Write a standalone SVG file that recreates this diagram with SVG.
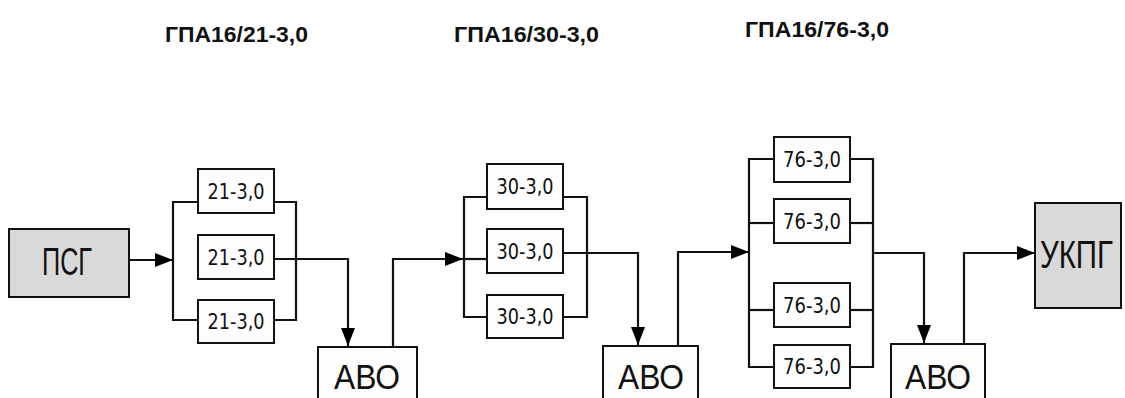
<svg xmlns="http://www.w3.org/2000/svg" width="1125" height="398" viewBox="0 0 1125 398">
<defs>
<marker id="arr" viewBox="0 0 18 14" refX="18" refY="7" markerWidth="18" markerHeight="14" markerUnits="userSpaceOnUse" orient="auto">
<path d="M0,0 L18,7 L0,14 Z" fill="#000"/>
</marker>
<style>
.box{fill:#fdfdfd;stroke:#111;stroke-width:2}
.gray{fill:#d9d9d9;stroke:#111;stroke-width:2}
.ln{fill:none;stroke:#111;stroke-width:2.2}
.lbl{font-family:"DejaVu Sans",sans-serif;font-size:22px;fill:#111;text-anchor:middle}
.big{font-family:"Liberation Sans",sans-serif;font-size:38px;fill:#111}
.avo{font-family:"Liberation Sans",sans-serif;font-size:35px;fill:#111}
.title{font-family:"Liberation Sans",sans-serif;font-weight:bold;font-size:22px;fill:#111}
</style>
</defs>
<rect width="1125" height="398" fill="#fff"/>
<g id="titles">
<text class="title" x="165" y="42" textLength="143" lengthAdjust="spacingAndGlyphs">ГПА16/21-3,0</text>
<text class="title" x="454" y="42" textLength="145" lengthAdjust="spacingAndGlyphs">ГПА16/30-3,0</text>
<text class="title" x="745" y="37" textLength="144" lengthAdjust="spacingAndGlyphs">ГПА16/76-3,0</text>
</g>
<g id="connectors">
<polyline class="ln" points="129,260 173,260" marker-end="url(#arr)"/>
<polyline class="ln" points="198,202 173,202 173,320 198,320"/>
<polyline class="ln" points="274,202 296,202 296,320 274,320"/>
<polyline class="ln" points="274,259 348,259 348,346" marker-end="url(#arr)"/>
<polyline class="ln" points="393,347 393,259 463,259" marker-end="url(#arr)"/>
<polyline class="ln" points="487,197 464,197 464,317 487,317"/>
<line class="ln" x1="464" y1="259" x2="487" y2="259"/>
<polyline class="ln" points="563,197 587,197 587,317 563,317"/>
<polyline class="ln" points="563,253 638,253 638,345" marker-end="url(#arr)"/>
<polyline class="ln" points="678,346 678,252 749,252" marker-end="url(#arr)"/>
<polyline class="ln" points="774,159 749,159 749,367 774,367"/>
<line class="ln" x1="749" y1="223" x2="774" y2="223"/>
<line class="ln" x1="749" y1="310" x2="774" y2="310"/>
<polyline class="ln" points="850,159 873,159 873,367 850,367"/>
<line class="ln" x1="850" y1="223" x2="873" y2="223"/>
<line class="ln" x1="850" y1="310" x2="873" y2="310"/>
<polyline class="ln" points="873,253 924,253 924,343" marker-end="url(#arr)"/>
<polyline class="ln" points="964,344 964,253 1035,253" marker-end="url(#arr)"/>
</g>
<g id="psg">
<rect class="gray" x="9" y="229" width="120" height="68"/>
<text class="big" x="42" y="275" textLength="50" lengthAdjust="spacingAndGlyphs">ПСГ</text>
</g>
<g id="g21a"><rect class="box" x="198" y="169" width="76" height="44"/><text class="lbl" x="236" y="199" textLength="57" lengthAdjust="spacingAndGlyphs">21-3,0</text></g>
<g id="g21b"><rect class="box" x="198" y="235" width="76" height="44"/><text class="lbl" x="236" y="265" textLength="57" lengthAdjust="spacingAndGlyphs">21-3,0</text></g>
<g id="g21c"><rect class="box" x="198" y="300" width="76" height="43"/><text class="lbl" x="236" y="329" textLength="57" lengthAdjust="spacingAndGlyphs">21-3,0</text></g>
<g id="avo1">
<rect class="box" x="318" y="347" width="99" height="60"/>
<text class="avo" x="334" y="389" textLength="66" lengthAdjust="spacingAndGlyphs">АВО</text>
</g>
<g id="g30a"><rect class="box" x="487" y="164" width="76" height="45"/><text class="lbl" x="525" y="194" textLength="57" lengthAdjust="spacingAndGlyphs">30-3,0</text></g>
<g id="g30b"><rect class="box" x="487" y="229" width="76" height="44"/><text class="lbl" x="525" y="259" textLength="57" lengthAdjust="spacingAndGlyphs">30-3,0</text></g>
<g id="g30c"><rect class="box" x="487" y="295" width="76" height="43"/><text class="lbl" x="525" y="324" textLength="57" lengthAdjust="spacingAndGlyphs">30-3,0</text></g>
<g id="avo2">
<rect class="box" x="603" y="346" width="95" height="60"/>
<text class="avo" x="618" y="389" textLength="66" lengthAdjust="spacingAndGlyphs">АВО</text>
</g>
<g id="g76a"><rect class="box" x="774" y="137" width="76" height="45"/><text class="lbl" x="812" y="167" textLength="58" lengthAdjust="spacingAndGlyphs">76-3,0</text></g>
<g id="g76b"><rect class="box" x="774" y="199" width="76" height="44"/><text class="lbl" x="812" y="229" textLength="58" lengthAdjust="spacingAndGlyphs">76-3,0</text></g>
<g id="g76c"><rect class="box" x="774" y="283" width="76" height="44"/><text class="lbl" x="812" y="313" textLength="58" lengthAdjust="spacingAndGlyphs">76-3,0</text></g>
<g id="g76d"><rect class="box" x="774" y="345" width="76" height="43"/><text class="lbl" x="812" y="374" textLength="58" lengthAdjust="spacingAndGlyphs">76-3,0</text></g>
<g id="avo3">
<rect class="box" x="891" y="344" width="94" height="62"/>
<text class="avo" x="905" y="389" textLength="66" lengthAdjust="spacingAndGlyphs">АВО</text>
</g>
<g id="ukpg">
<rect class="gray" x="1035" y="203" width="86" height="105"/>
<text class="big" x="1040" y="268" textLength="73" lengthAdjust="spacingAndGlyphs">УКПГ</text>
</g>
</svg>
